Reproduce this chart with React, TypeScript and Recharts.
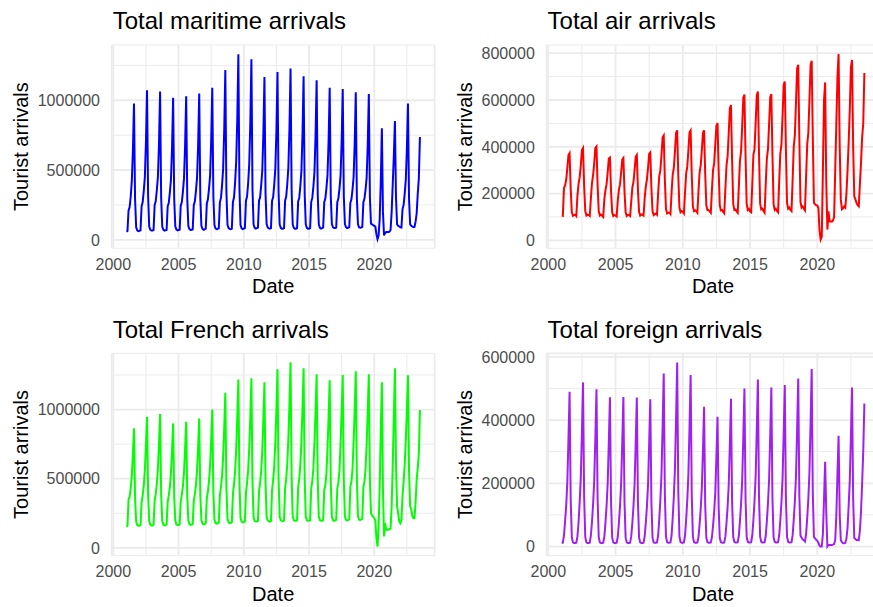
import { LineChart, Line, XAxis, YAxis, CartesianGrid } from 'recharts'

// monthly arrivals in thousands, Jan 2001 .. Jul 2023 (one row per year)
const maritime = [
  58, 62, 210, 235, 310, 420, 640, 976, 290, 90, 68, 62,
  64, 68, 240, 270, 350, 450, 700, 1072, 310, 95, 72, 66,
  66, 70, 250, 275, 355, 450, 690, 1062, 300, 95, 72, 66,
  68, 70, 240, 265, 340, 430, 660, 1017, 290, 95, 74, 68,
  70, 72, 245, 270, 345, 440, 670, 1029, 295, 98, 76, 70,
  72, 74, 250, 275, 350, 445, 680, 1048, 300, 100, 78, 72,
  75, 80, 260, 290, 365, 460, 710, 1089, 315, 105, 82, 76,
  78, 82, 270, 300, 390, 510, 790, 1217, 345, 108, 84, 78,
  76, 80, 270, 305, 410, 560, 860, 1330, 370, 105, 82, 76,
  80, 84, 280, 310, 405, 545, 840, 1294, 360, 110, 86, 80,
  84, 88, 280, 305, 390, 495, 760, 1167, 330, 112, 88, 82,
  80, 84, 280, 305, 395, 510, 780, 1203, 340, 110, 86, 80,
  80, 84, 280, 310, 400, 520, 800, 1227, 345, 110, 86, 80,
  80, 84, 275, 300, 385, 495, 760, 1172, 330, 110, 86, 80,
  80, 84, 270, 300, 380, 485, 745, 1144, 325, 110, 86, 80,
  84, 88, 270, 295, 370, 465, 710, 1089, 310, 112, 90, 84,
  84, 88, 270, 295, 365, 460, 705, 1081, 310, 112, 90, 84,
  86, 90, 265, 290, 360, 450, 690, 1057, 300, 112, 90, 86,
  88, 92, 270, 295, 360, 445, 680, 1045, 300, 115, 110, 105,
  100, 95, 40, 5, 30, 150, 420, 800, 200, 31, 50, 55,
  55, 55, 58, 70, 200, 400, 600, 851, 300, 110, 100, 95,
  90, 88, 220, 250, 330, 430, 650, 976, 290, 110, 100, 95,
  90, 92, 130, 190, 330, 440, 737,
]

const air = [
  107, 105, 224, 235, 259, 310, 365, 373, 220, 120, 105, 108,
  110, 104, 190, 240, 270, 320, 385, 394, 230, 125, 106, 110,
  108, 104, 180, 245, 280, 330, 395, 401, 235, 125, 106, 110,
  106, 100, 175, 215, 240, 290, 350, 354, 210, 120, 104, 108,
  106, 102, 170, 215, 240, 290, 345, 352, 210, 120, 104, 108,
  108, 104, 165, 225, 250, 300, 358, 365, 215, 122, 106, 110,
  110, 106, 180, 230, 260, 310, 370, 376, 225, 125, 108, 112,
  115, 110, 200, 275, 300, 365, 440, 448, 260, 135, 115, 118,
  118, 112, 205, 280, 310, 380, 460, 470, 275, 140, 120, 125,
  122, 115, 205, 285, 315, 385, 462, 470, 280, 145, 125, 128,
  125, 118, 210, 290, 320, 385, 460, 470, 285, 150, 130, 130,
  124, 118, 215, 300, 330, 410, 490, 501, 300, 150, 128, 130,
  122, 116, 220, 320, 360, 460, 565, 578, 340, 155, 130, 132,
  124, 118, 230, 340, 380, 490, 610, 623, 360, 155, 130, 135,
  124, 120, 240, 366, 390, 500, 620, 636, 370, 158, 132, 135,
  125, 118, 240, 350, 390, 495, 612, 625, 365, 155, 130, 135,
  126, 120, 250, 370, 410, 530, 665, 679, 390, 160, 135, 140,
  130, 125, 260, 400, 450, 590, 735, 750, 430, 165, 140, 145,
  135, 128, 270, 410, 460, 600, 750, 768, 440, 160, 155, 150,
  149, 138, 40, 3, 15, 300, 600, 675, 250, 46, 124, 81,
  81, 80, 85, 100, 300, 500, 700, 797, 400, 174, 133, 137,
  145, 140, 200, 300, 420, 560, 740, 771, 400, 188, 175, 160,
  150, 145, 240, 330, 440, 500, 715,
]

const french = [
  154, 158, 350, 370, 430, 520, 680, 864, 360, 190, 165, 160,
  160, 165, 330, 380, 450, 560, 740, 947, 380, 195, 168, 162,
  162, 166, 340, 390, 460, 570, 755, 967, 385, 195, 168, 162,
  164, 168, 330, 380, 440, 540, 705, 900, 365, 195, 170, 165,
  165, 170, 335, 385, 445, 545, 712, 911, 370, 198, 172, 166,
  168, 172, 340, 390, 455, 560, 730, 936, 380, 200, 175, 170,
  172, 178, 360, 410, 480, 595, 780, 1001, 400, 205, 180, 175,
  178, 182, 380, 440, 520, 660, 870, 1121, 440, 210, 185, 180,
  180, 185, 390, 460, 550, 710, 940, 1217, 470, 215, 190, 185,
  185, 190, 400, 470, 560, 720, 950, 1227, 475, 220, 195, 190,
  190, 195, 410, 470, 555, 705, 930, 1198, 465, 220, 198, 192,
  190, 195, 420, 490, 590, 760, 1000, 1291, 495, 225, 200, 195,
  192, 198, 430, 500, 610, 790, 1040, 1342, 510, 225, 200, 195,
  195, 200, 440, 500, 600, 770, 1010, 1299, 500, 225, 200, 195,
  195, 200, 430, 480, 575, 760, 990, 1255, 490, 225, 200, 195,
  195, 200, 420, 450, 540, 720, 950, 1212, 475, 225, 200, 195,
  198, 202, 430, 470, 560, 750, 985, 1250, 490, 228, 202, 198,
  200, 205, 440, 480, 570, 760, 1000, 1277, 500, 230, 205, 200,
  205, 210, 440, 480, 570, 750, 985, 1255, 490, 250, 235, 225,
  214, 200, 70, 9, 150, 450, 850, 1198, 420, 82, 178, 130,
  130, 130, 135, 140, 300, 600, 950, 1299, 600, 300, 250, 190,
  178, 200, 380, 480, 600, 780, 1000, 1248, 550, 300, 279, 230,
  214, 214, 330, 490, 580, 680, 996,
]

const foreign = [
  11, 12, 35, 80, 130, 205, 340, 489, 150, 30, 13, 11,
  11, 12, 32, 75, 140, 218, 360, 519, 155, 30, 13, 11,
  11, 12, 35, 78, 135, 210, 345, 497, 150, 30, 13, 11,
  11, 12, 30, 75, 128, 200, 330, 472, 142, 28, 13, 11,
  11, 12, 30, 75, 128, 200, 330, 473, 142, 28, 13, 11,
  11, 12, 32, 74, 127, 198, 328, 471, 141, 28, 13, 11,
  11, 12, 33, 74, 126, 196, 325, 466, 140, 28, 13, 12,
  12, 13, 35, 85, 148, 230, 380, 547, 165, 32, 14, 12,
  12, 13, 35, 90, 157, 245, 405, 582, 175, 33, 14, 12,
  12, 13, 34, 85, 146, 228, 378, 542, 163, 32, 14, 12,
  12, 13, 30, 70, 120, 186, 308, 442, 133, 28, 14, 12,
  12, 13, 30, 66, 110, 172, 285, 410, 123, 27, 14, 12,
  12, 13, 32, 74, 126, 196, 325, 467, 140, 30, 15, 13,
  13, 14, 34, 80, 135, 210, 348, 500, 150, 30, 15, 13,
  13, 14, 35, 84, 143, 222, 368, 528, 158, 32, 15, 13,
  13, 14, 34, 80, 136, 211, 350, 503, 151, 30, 15, 13,
  13, 14, 35, 82, 138, 215, 356, 511, 153, 31, 15, 13,
  13, 14, 36, 85, 143, 223, 370, 531, 160, 35, 28, 22,
  20, 16, 38, 90, 150, 235, 390, 561, 168, 30, 26, 21,
  18, 12, 2, 0, 0, 40, 150, 268, 110, 0, 5, 5,
  5, 5, 6, 8, 20, 100, 230, 350, 100, 20, 14, 10,
  10, 11, 25, 60, 130, 210, 350, 503, 150, 27, 24, 20,
  21, 20, 50, 110, 200, 300, 452,
]

const yearTicks = [2000, 2002.5, 2005, 2007.5, 2010, 2012.5, 2015, 2017.5, 2020, 2022.5]
const bigTicks = [0, 250000, 500000, 750000, 1000000, 1250000]
const airTicks = [0, 100000, 200000, 300000, 400000, 500000, 600000, 700000, 800000]
const foreignTicks = [0, 100000, 200000, 300000, 400000, 500000, 600000]

const X_DOMAIN = [1999.875, 2024.625]
const FONT = '"Liberation Sans", Arial, Helvetica, sans-serif'
const GRID = '#ebebeb'
const Y_W = 90
const X_H = 30

const toRows = (vals: number[]) =>
  vals.map((v, i) => ({ date: 2001 + Math.floor(i / 12) + (i % 12) / 12, value: v * 1000 }))

interface Box { left: number; top: number; width: number; height: number }
interface Plot { x: number; y: number; w: number; h: number }

interface PanelSpec {
  title: string
  values: number[]
  color: string
  yDomain: [number, number]
  yTicks: number[]
  yStep: number
  box: Box
  plot: Plot
  yTitleGap: number
}

const panels: PanelSpec[] = [
  {
    title: 'Total maritime arrivals', values: maritime, color: '#0000ff',
    yDomain: [-61000, 1396000], yTicks: bigTicks, yStep: 500000,
    box: { left: 0, top: 0, width: 440, height: 300 },
    plot: { x: 111.7, y: 45, w: 322.9, h: 203.3 }, yTitleGap: 85,
  },
  {
    title: 'Total air arrivals', values: air, color: '#ff0000',
    yDomain: [-34000, 835000], yTicks: airTicks, yStep: 200000,
    box: { left: 440, top: 0, width: 445, height: 300 },
    plot: { x: 546.6, y: 45, w: 332.9, h: 203.3 }, yTitleGap: 76,
  },
  {
    title: 'Total French arrivals', values: french, color: '#00ff00',
    yDomain: [-57000, 1407000], yTicks: bigTicks, yStep: 500000,
    box: { left: 0, top: 304, width: 440, height: 303 },
    plot: { x: 111.7, y: 353.3, w: 322.9, h: 202.4 }, yTitleGap: 85,
  },
  {
    title: 'Total foreign arrivals', values: foreign, color: '#a020f0',
    yDomain: [-29000, 611000], yTicks: foreignTicks, yStep: 200000,
    box: { left: 440, top: 304, width: 445, height: 303 },
    plot: { x: 546.6, y: 353.3, w: 332.9, h: 202.4 }, yTitleGap: 76,
  },
]

const nearStep = (v: number, step: number) => Math.abs(v / step - Math.round(v / step)) < 0.1

function Panel({ spec }: { spec: PanelSpec }) {
  const { box, plot, yDomain } = spec
  const margin = {
    top: plot.y - box.top,
    left: plot.x - box.left - Y_W,
    right: box.left + box.width - plot.x - plot.w,
    bottom: box.top + box.height - plot.y - plot.h - X_H,
  }
  const plotLeft = plot.x - box.left
  const yValue = (y: number) => yDomain[1] - ((y - margin.top) / plot.h) * (yDomain[1] - yDomain[0])
  const xValue = (x: number) => X_DOMAIN[0] + ((x - plotLeft) / plot.w) * (X_DOMAIN[1] - X_DOMAIN[0])

  const hLine = (p: any) => (
    <line x1={p.x1} y1={p.y1} x2={p.x2} y2={p.y2} stroke={GRID}
      strokeWidth={nearStep(yValue(p.y1), spec.yStep) ? 1.8 : 1} />
  )
  const vLine = (p: any) => (
    <line x1={p.x1} y1={p.y1} x2={p.x2} y2={p.y2} stroke={GRID}
      strokeWidth={nearStep(xValue(p.x1), 5) ? 1.8 : 1} />
  )

  const xTick = (p: any) =>
    p.payload.value % 5 === 0 ? (
      <text x={p.x} y={p.y + 21.7} textAnchor="middle" fontSize={16} fill="#4d4d4d" fontFamily={FONT}>
        {p.payload.value}
      </text>
    ) : <g />
  const yTick = (p: any) =>
    nearStep(p.payload.value, spec.yStep) ? (
      <text x={p.x - 11.7} y={p.y + 5.8} textAnchor="end" fontSize={16} fill="#4d4d4d" fontFamily={FONT}>
        {String(p.payload.value)}
      </text>
    ) : <g />

  return (
    <div style={{ position: 'absolute', left: box.left, top: box.top }}>
      <LineChart width={box.width} height={box.height} data={toRows(spec.values)} margin={margin}>
        <CartesianGrid horizontal={hLine} vertical={vLine} />
        <XAxis dataKey="date" type="number" domain={X_DOMAIN} ticks={yearTicks} interval={0}
          allowDataOverflow axisLine={false} tickLine={false} tickSize={0} tickMargin={0}
          height={X_H} tick={xTick} />
        <YAxis type="number" domain={yDomain} ticks={spec.yTicks} interval={0} allowDataOverflow
          axisLine={false} tickLine={false} tickSize={0} tickMargin={0} width={Y_W} tick={yTick} />
        <Line type="linear" dataKey="value" stroke={spec.color} strokeWidth={2} dot={false}
          isAnimationActive={false} />
      </LineChart>
    </div>
  )
}

export default function App() {
  return (
    <div style={{ position: 'absolute', left: 0, top: 0, width: 873, height: 607, overflow: 'hidden', background: '#fff' }}>
      {panels.map((p) => <Panel key={p.title} spec={p} />)}
      <svg width={873} height={607} style={{ position: 'absolute', left: 0, top: 0 }} fontFamily={FONT}>
        {panels.map((p) => {
          const cy = p.plot.y + p.plot.h / 2
          const tx = p.plot.x - p.yTitleGap + 1
          return (
            <g key={p.title}>
              <text x={p.plot.x + 1} y={p.plot.y - 15.7} fontSize={24} fill="#000">{p.title}</text>
              <text x={p.plot.x + p.plot.w / 2} y={p.plot.y + p.plot.h + 45} fontSize={20} fill="#000" textAnchor="middle">Date</text>
              <text x={tx} y={cy} fontSize={20} fill="#000" textAnchor="middle" transform={`rotate(-90 ${tx} ${cy})`}>Tourist arrivals</text>
            </g>
          )
        })}
      </svg>
    </div>
  )
}
